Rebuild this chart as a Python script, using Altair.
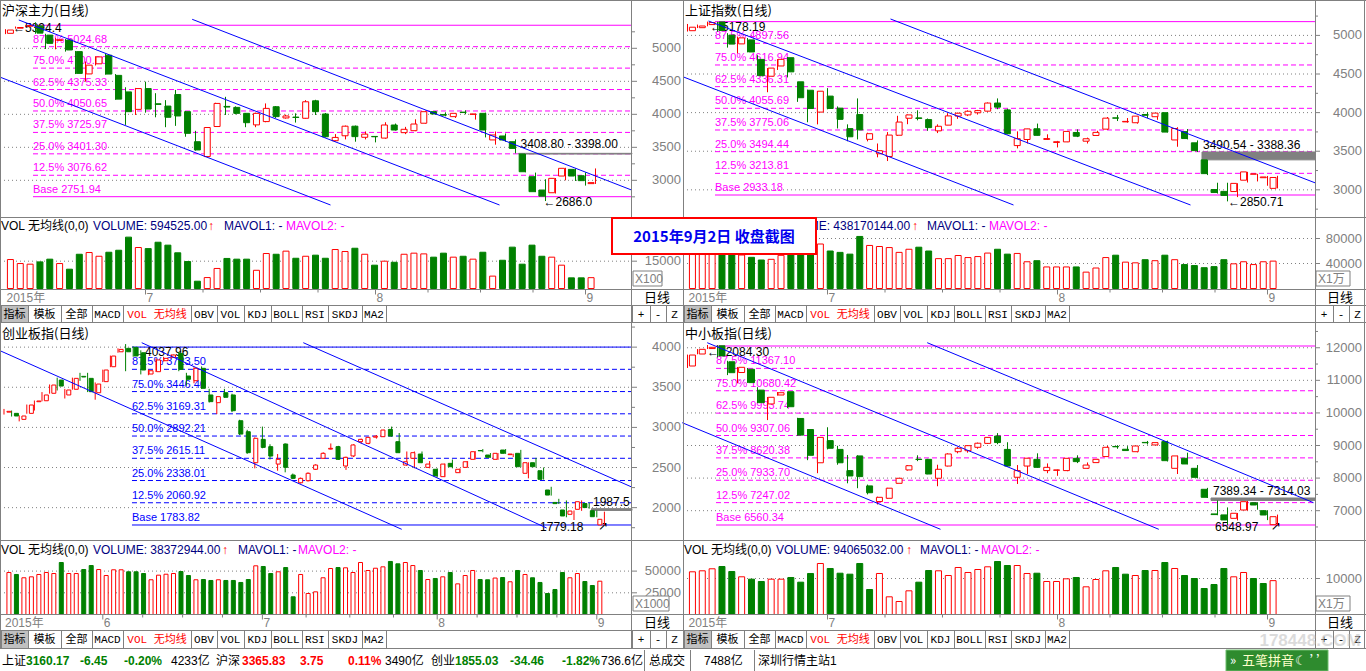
import altair as alt
import pandas as pd

W, H = 1366, 671
FONT = "Liberation Sans, DejaVu Sans, Noto Sans CJK SC"
CJK = "Noto Sans CJK SC, Liberation Sans"
MONO = "Liberation Mono, DejaVu Sans Mono, Noto Sans CJK SC"
RED, GREEN, MAG, BLUE, GRAY, NAVY = "#FF0000", "#008000", "#FF00FF", "#0000FF", "#808080", "#000080"

# ================= DATA =================
# 沪深主力 (2015-06-10 .. 2015-09-02)
hs_open = [5227,5305,5335,5340,5200,5120,5125,4950,4612,4765, 4895,4590,4340,4075,4390,4160,4125,4300,4040,3585,
           3360,3815,4120,4105,4015,3840,3890,4115,3945,3958, 3940,4205,4005,3600,3675,3820,3652,3665,3640,3838,
           3722,3752,3865,4040,3995,3965,4033,4000,4015,3612, 3672,3585,3398,3055,2853,2812,3065,3166,3070,2950]
hs_high = [5290,5330,5349,5394.4,5220,5160,5140,4960,4800,4880, 4920,4610,4410,4400,4495,4320,4215,4370,4050,3750,
           3805,4175,4265,4120,4020,4025,4165,4125,3995,4015, 4215,4220,4020,3700,3830,3830,3740,3670,3880,3860,
           3810,3925,4050,4050,4030,4020,4060,4008,4025,3740, 3710,3620,3398,3117,3016,3035,3190,3180,3120,3180]
hs_low = [5215,5298,5325,5220,4990,4985,4950,4610,4495,4740, 4600,4220,3840,3990,4025,3955,3805,3825,3660,3450,
          3355,3810,3990,4000,3805,3805,3880,3945,3935,3875, 3935,3990,3650,3590,3620,3585,3620,3575,3630,3755,
          3700,3745,3860,3995,3970,3945,4000,3920,3650,3540, 3585,3408.8,3120,2820,2686,2800,3000,2990,2920,2945]
hs_close = [5277,5315,5345,5230,5075,5130,4975,4620,4745,4870, 4610,4230,4040,4390,4080,4150,3955,3975,3712,3460,
            3800,4165,4110,4015,3873,4015,4090,3965,3975,3952, 4190,4040,3660,3650,3820,3662,3700,3660,3838,3762,
            3773,3853,4040,4005,3988,4015,4027,4005,3762,3687, 3611,3484,3130,2828,2760,3030,3182,3065,2995,2965]
hs_vol = [15900,13700,13350,14600,16100,13700,10600,18800,19750,17700, 19900,21000,28200,22500,21900,25400,23800,19600,14800,4000,
          6000,11000,16500,16100,16100,10000,19200,18800,20500,16600, 17700,18300,16600,21400,20300,22100,18800,12800,15000,14400,
          18800,19400,19000,17200,19400,17200,17700,16100,19900,6800, 15500,22700,13350,23800,17700,17200,12800,5850,5850,5945]
hs_fib = [5349.38, 5024.68, 4700.00, 4375.33, 4050.65, 3725.97, 3401.30, 3076.62, 2751.94]
hs_grid = [3000, 3500, 4000, 4500, 5000]
hs_minor = [2750, 3250, 3750, 4250, 4750, 5250]
hs_vgrid = [15000]
hs_chan = [(18.67, 5439.5, 62.6, 2853.4), (1.33, 5429.0, 49.4, 2626.2), (-0.5, 4560.8, 32.5, 2626.2)]
hs_note_i = [0.75, 51.5, 53.8]
hs_note_v = [5308, 3550, 2672]
hs_note_t = ["←5394.4", "3408.80 - 3398.00", "←2686.0"]
hs_gap = (51.3, 62.65, 3398.0, 3408.8)

# 上证指数
sh_open = [5061,5100,5140,5174,5004,4890,4942,4689,4471,4604, 4711,4399,4289.77,4006.75,4214,4058,3793,3975,3654,3467,
           3432,3707,3927,3932,3910,3764,3838,3955,3970,3998, 4019,4124,4035,3573,3652,3791,3653,3614,3621,3743,
           3630,3704,3786,3932,3880,3869,3976,3947,3999,3646, 3754,3609,3388.36,3004,2980,2978,3125,3203,3157,3019]
sh_high = [5148,5140,5178.19,5176,5029,4985,4966,4744,4577,4691, 4720,4400,4297.48,4279,4317,4080,3848,4184,3740,3600,
           3748,3959,3975,4030,3924,3848,3993,4000,4030,4035, 4132,4184,4050,3757,3790,3858,3719,3634,3757,3783,
           3676,3765,3943,3970,3930,3955,4006,3994,4006,3811, 3788,3640,3388.36,3092,3092,3085,3233,3207,3180,3182]
sh_low = [5050,5095,5118,5048,4842,4767,4780,4476,4264,4552, 4456,4139,3875.05,3847.88,4043,3795,3629,3653,3628,3421,
          3373,3698,3850,3900,3765,3735,3838,3919,3955,3975, 4012,4044,3720,3537,3600,3705,3648,3549,3618,3683,
          3600,3701,3775,3891,3870,3857,3929,3907,3743,3558, 3653,3490.54,3191,2952,2850.71,2906,3095,3109,3053,3019]
sh_close = [5106.04,5121.59,5166.35,5062.99,4887.43,4967.90,4785.36,4478.36,4576.49,4690.15,
            4527.78,4192.87,4053.03,4277.22,4053.70,3912.77,3686.92,3775.91,3727.12,3507.19,
            3709.33,3877.80,3970.39,3924.49,3805.70,3823.18,3957.35,3992.11,4017.67,4026.04,
            4123.92,4070.91,3725.56,3663.00,3789.17,3705.77,3663.73,3622.91,3756.54,3694.57,
            3661.54,3744.20,3928.42,3927.91,3886.32,3954.56,3965.33,3993.67,3748.16,3794.11,
            3664.29,3507.74,3209.91,2964.97,2927.29,3083.59,3232.35,3205.99,3166.62,3160.17]
sh_vol = [62000,60000,64000,70000,62000,53600,49900,45600,46700,53100, 58000,60000,72000,71200,60000,57800,55000,83300,68900,67200,
          65500,57800,62800,66100,60000,47800,47800,52800,49500,51100, 56700,62800,55000,56100,42800,44500,34500,34500,34500,34500,
          26200,32800,49500,53300,42200,41100,46100,44500,53300,46100, 38300,36700,33300,35000,46100,39500,42800,38300,42800,43817]
sh_fib = [5178.19, 4897.56, 4616.94, 4336.31, 4055.69, 3775.06, 3494.44, 3213.81, 2933.18]
sh_grid = [3000, 3500, 4000, 4500, 5000]
sh_minor = [2750, 3250, 3750, 4250, 4750, 5250]
sh_vgrid = [40000, 80000]
sh_chan = [(20.3, 5212.4, 62.8, 3088.6), (2.1, 5186.5, 50.3, 2803.7), (-0.4, 4461.3, 32.6, 2803.7)]
sh_note_i = [2.25, 51.55, 54.05]
sh_note_v = [5109, 3581, 2843]
sh_note_t = ["←5178.19", "3490.54 - 3388.36", "←2850.71"]
sh_gap = (51.45, 62.75, 3388.36, 3490.54)

# 创业板指 (2015-05-13 .. 2015-09-02)
cy_open = [3190,3175,3100,3175,3320,3332,3425,3590,3404,3475, 3636,3611,3432,3570,3756,3942,3985,3997,3930,3665,
           3694,3831,3873,3922,3640,3582,3736,3404,3308,3432, 3404,3083,2946,2560,2851,2760,2543,2793,2407,2310,
           2336,2478,2615,2730,2760,2519,2644,2822,2801,2878, 2884,2975,2822,2531,2615,2668,2502,2478,2386,2552,
           2436,2502,2602,2712,2656,2602,2718,2660,2677,2428, 2560,2460,2220,2065,1971,1917,1979,2051,1962,1785]
cy_high = [3230,3210,3150,3285,3335,3440,3535,3620,3480,3620, 3680,3680,3560,3720,3895,3985,4037.96,4010,3960,3720,
           3860,3880,3910,3940,3680,3750,3760,3480,3390,3480, 3420,3095,2970,2875,3010,2790,2668,2800,2425,2375,
           2440,2540,2690,2800,2770,2635,2790,2860,2880,2905, 2970,3010,2930,2700,2700,2700,2580,2490,2550,2600,
           2490,2580,2705,2730,2680,2680,2730,2672,2720,2565, 2620,2500,2260,2110,2090,1965,2090,2060,1965,1950]
cy_low = [3160,3135,3075,3170,3210,3325,3420,3460,3360,3470, 3580,3440,3345,3565,3750,3930,3700,3880,3660,3650,
          3690,3820,3860,3700,3520,3550,3480,3310,3166,3370, 3190,2905,2670,2490,2740,2600,2460,2440,2355,2300,
          2325,2470,2610,2725,2595,2470,2630,2800,2790,2860, 2880,2885,2680,2520,2490,2555,2490,2375,2380,2490,
          2430,2500,2600,2690,2620,2595,2670,2630,2505,2365, 2500,2350,2150,2045,1880,1846,1960,1987.5,1880,1779.18]
cy_close = [3200,3142,3142,3279,3329,3404,3528,3515,3466,3611, 3628,3445,3540,3715,3889,3972,3942,3890,3715,3706,
            3840,3860,3902,3723,3599,3736,3487,3321,3383,3375, 3208,2917,2685,2864,2751,2643,2602,2502,2365,2365,
            2428,2531,2677,2739,2602,2627,2781,2851,2876,2890, 2967,2892,2685,2572,2685,2560,2543,2395,2543,2510,
            2478,2572,2697,2708,2627,2677,2677,2668,2510,2560, 2510,2353,2157,2050,1896,1958,2074,2001,1887,1855.03]
cy_vol = [48400,46100,42300,43400,46100,48400,47200,59900,47200,47200, 51800,56400,51800,44900,51500,51500,49200,49200,47200,40000,
          45300,46400,47200,49500,44900,40000,40300,39200,40000,39200, 39200,36900,40300,56100,55300,47200,49200,54100,20400,46100,
          24200,26100,42300,53000,54100,53800,48400,59900,50700,53300, 54900,61100,58400,59900,56400,50700,40300,41500,43400,48400,
          35300,44900,50700,40300,40000,42000,42600,37700,50700,46100, 42300,36900,24200,28800,48400,42300,47200,38000,33400,38373]
cy_fib = [4000.60, 3723.50, 3446.40, 3169.31, 2892.21, 2615.11, 2338.01, 2060.92, 1783.82]
cy_grid = [2000, 2500, 3000, 3500, 4000]
cy_minor = [1750, 2250, 2750, 3250, 3750, 4250]
cy_vgrid = [25000, 50000]
cy_chan = [(39.38, 4055.3, 82.5, 2261.0), (18.12, 4055.3, 71.4, 1746.4), (-0.53, 3955.6, 52.33, 1730.2)]
cy_note_i = [16.97, 77.5, 70.53, 78.2]
cy_note_v = [3943, 2074, 1759, 1771]
cy_note_t = ["←4037.96", "1987.5", "1779.18", "↗"]
cy_gap = (77.3, 82.63, 1965.0, 1987.5)

# 中小板指
zx_open = [11440,11808,11975,12060,11570,11240,11340,10700,10275,10550, 10650,9830,9490,8470,9150,8880,8230,8680,7760,7280,
           7380,7840,8250,8580,8575,7995,8370,8810,8840,8945, 9065,9290,8880,8025,8370,8575,8230,8240,8230,8607,
           8300,8475,8660,8970,8885,8810,9095,9017,9120,8300, 8607,8300,7656,6900,6870,6765,7020,7245,7000,6570]
zx_high = [11790,11960,12084.3,12080,11600,11410,11380,10790,10490,10640, 10660,9850,9500,9260,9560,8990,8710,8700,7800,7430,
           7700,8000,8400,8700,8590,8410,8760,8950,9000,9090, 9260,9380,9100,8400,8620,8760,8450,8260,8610,8700,
           8480,8590,8990,9010,8980,8990,9140,9090,9150,8690, 8780,8400,7700,7314.03,7100,6930,7300,7260,7010,6880]
zx_low = [11380,11800,11960,11700,11160,10910,10920,10300,9780,10530, 10150,9300,8550,8150,8880,8410,7840,7690,7500,7190,
          7370,7835,8230,8520,8120,7750,8360,8760,8780,8900, 9050,9040,8350,7820,8120,8320,8150,8070,8210,8460,
          8290,8470,8650,8900,8840,8790,9030,9000,8510,8125, 8420,7990,7389.34,6860,6548.97,6700,7000,7030,6710,6555]
zx_close = [11777,11952,12014,11750,11235,11400,10930,10315,10480,10620, 10190,9320,8700,9250,8915,8470,8065,8045,7550,7410,
            7690,7995,8380,8570,8125,8270,8740,8915,8995,9070, 9250,9090,8370,8230,8610,8330,8330,8250,8607,8505,
            8400,8576,8945,8960,8845,8985,9085,9088,8535,8680, 8433,8024,7411,6880,6715,6920,7276,7174,6867,6815]
zx_vol = [11860,12140,12700,13330,11940,10470,9810,9170,9810,9810, 10280,8980,11390,14170,12780,11470,11200,14170,6940,11390,
          4910,3610,6580,8980,12220,12140,10830,13060,11670,12500, 13250,14720,13610,13610,11390,11470,9170,9170,9910,10280,
          7690,9720,12140,13060,11200,10830,12220,12220,14440,12780, 10830,10000,7220,8330,12780,10470,11670,10000,8610,9406]
zx_fib = [12053.78, 11367.10, 10680.42, 9993.74, 9307.06, 8620.38, 7933.70, 7247.02, 6560.34]
zx_grid = [7000, 8000, 9000, 10000, 11000, 12000]
zx_minor = [6500, 7500, 8500, 9500, 10500, 11500, 12500]
zx_vgrid = [10000]
zx_chan = [(23.97, 12155.1, 62.6, 7244.7), (1.97, 12155.1, 47.13, 6428.4), (-0.53, 9700.0, 25.3, 6428.4)]
zx_note_i = [1.95, 52.55, 52.75, 58.35]
zx_note_v = [11879, 7613, 6499, 6530]
zx_note_t = ["←12084.30", "7389.34 - 7314.03", "6548.97", "↗"]
zx_gap = (52.35, 62.75, 7314.03, 7389.34)

FIB_PCT = ["", "87.5%", "75.0%", "62.5%", "50.0%", "37.5%", "25.0%", "12.5%", "Base"]

# date rows
top_tick_i = [14, 37, 58]
top_qtick_i = [19.75, 25.5, 31.25, 42.25, 47.5, 52.75]
top_lab_i = [0, 14, 37, 58]
top_lab_t = ["2015年", "7", "8", "9"]
bl_tick_i = [13, 34, 57, 78]
bl_qtick_i = [18.25, 23.5, 28.75, 39.75, 45.5, 51.25, 62.25, 67.5, 72.75]
bl_lab_i = [0, 13, 34, 57, 78]
bl_lab_t = ["2015年", "6", "7", "8", "9"]

# ================= LAYOUT =================
PANELS = [
    dict(title="沪深主力(日线)", O=hs_open, H=hs_high, L=hs_low, C=hs_close, V=hs_vol, fib=hs_fib, fibx=2.75, fibcol=MAG,
         grid=hs_grid, minor=hs_minor, vgrid=hs_vgrid, chan=hs_chan, ni=hs_note_i, nv=hs_note_v, nt=hs_note_t, gap=hs_gap,
         xd=(-0.55, 62.65), px=(0, 632), yd=(2444.4, 5731.9), py=(217, 0), vd=(0, 39250), pv=(288.5, 217),
         body=6, adx=49, row=289.5, tick_i=top_tick_i, qtick_i=top_qtick_i, lab_i=top_lab_i, lab_t=top_lab_t),
    dict(title="上证指数(日线)", O=sh_open, H=sh_high, L=sh_low, C=sh_close, V=sh_vol, fib=sh_fib, fibx=2.75, fibcol=MAG,
         grid=sh_grid, minor=sh_minor, vgrid=sh_vgrid, chan=sh_chan, ni=sh_note_i, nv=sh_note_v, nt=sh_note_t, gap=sh_gap,
         xd=(-0.45, 62.75), px=(683, 1315), yd=(2648.3, 5458.4), py=(217, 0), vd=(0, 114400), pv=(288.5, 217),
         body=6, adx=47, row=289.5, tick_i=top_tick_i, qtick_i=top_qtick_i, lab_i=top_lab_i, lab_t=top_lab_t),
    dict(title="创业板指(日线)", O=cy_open, H=cy_high, L=cy_low, C=cy_close, V=cy_vol, fib=cy_fib, fibx=16.84, fibcol=BLUE,
         grid=cy_grid, minor=cy_minor, vgrid=cy_vgrid, chan=cy_chan, ni=cy_note_i, nv=cy_note_v, nt=cy_note_t, gap=cy_gap,
         xd=(-0.5263, 82.6316), px=(0, 632), yd=(1596.9, 4313.2), py=(540, 322), vd=(0, 84670), pv=(614.5, 541),
         body=4, adx=49, row=614.5, tick_i=bl_tick_i, qtick_i=bl_qtick_i, lab_i=bl_lab_i, lab_t=bl_lab_t),
    dict(title="中小板指(日线)", O=zx_open, H=zx_high, L=zx_low, C=zx_close, V=zx_vol, fib=zx_fib, fibx=2.85, fibcol=MAG,
         grid=zx_grid, minor=zx_minor, vgrid=zx_vgrid, chan=zx_chan, ni=zx_note_i, nv=zx_note_v, nt=zx_note_t, gap=zx_gap,
         xd=(-0.45, 62.75), px=(683, 1315), yd=(6100.0, 12790.4), py=(540, 322), vd=(0, 20418), pv=(614.5, 541),
         body=6, adx=47, row=614.5, tick_i=top_tick_i, qtick_i=top_qtick_i, lab_i=top_lab_i, lab_t=top_lab_t),
]


def S(dom, rng):
    return alt.Scale(domain=list(dom), range=list(rng), nice=False, zero=False)


SX, SY = S((0, W), (0, W)), S((0, H), (0, H))


def C(rows):
    return alt.Chart(pd.DataFrame(rows))


def panel_layers(p):
    xs, ys, vs = S(p["xd"], p["px"]), S(p["yd"], p["py"]), S(p["vd"], p["pv"])
    x0, x1 = p["xd"]
    n = len(p["O"])
    up = [c >= o for o, c in zip(p["O"], p["C"])]
    df = pd.DataFrame({"i": list(range(n)), "o": p["O"], "h": p["H"], "l": p["L"], "c": p["C"], "v": p["V"],
                       "z": [0] * n, "col": [RED if u else GREEN for u in up],
                       "fill": ["#FFFFFF" if u else GREEN for u in up]})
    out = []
    # ---- price panel ----
    out.append(C({"y": p["grid"], "a": [x0] * len(p["grid"]), "b": [x1] * len(p["grid"])})
               .mark_rule(color=GRAY, strokeDash=[1, 3], strokeWidth=1)
               .encode(x=alt.X("a:Q", scale=xs, axis=None), x2="b:Q", y=alt.Y("y:Q", scale=ys, axis=None)))
    fib = pd.DataFrame({"y": p["fib"], "a": [p["fibx"]] * 9, "b": [x1] * 9,
                        "t": [f"{pc} {v:.2f}" for pc, v in zip(FIB_PCT, p["fib"])]})
    solid = fib.iloc[[0, 8]]
    dashed = fib.iloc[1:8]
    out.append(alt.Chart(solid).mark_rule(color=p["fibcol"], strokeWidth=1)
               .encode(x=alt.X("a:Q", scale=xs, axis=None), x2="b:Q", y=alt.Y("y:Q", scale=ys, axis=None)))
    out.append(alt.Chart(dashed).mark_rule(color=p["fibcol"], strokeWidth=1, strokeDash=[5, 3])
               .encode(x=alt.X("a:Q", scale=xs, axis=None), x2="b:Q", y=alt.Y("y:Q", scale=ys, axis=None)))
    out.append(alt.Chart(fib.iloc[1:]).mark_text(align="left", baseline="middle", dy=-7, fontSize=11, font=FONT,
                                                 color=p["fibcol"])
               .encode(x=alt.X("a:Q", scale=xs, axis=None), y=alt.Y("y:Q", scale=ys, axis=None), text="t:N"))
    # gap band
    g0, g1, gv0, gv1 = p["gap"]
    out.append(C({"a": [g0], "b": [g1], "y": [gv0], "y2": [gv1]})
               .mark_rect(fill=GRAY, stroke=GRAY, strokeWidth=1)
               .encode(x=alt.X("a:Q", scale=xs, axis=None), x2="b:Q", y=alt.Y("y:Q", scale=ys, axis=None), y2="y2:Q"))
    # annotations
    out.append(C({"i": p["ni"], "v": p["nv"], "t": p["nt"]})
               .mark_text(align="left", baseline="middle", fontSize=12, font=FONT, color="black")
               .encode(x=alt.X("i:Q", scale=xs, axis=None), y=alt.Y("v:Q", scale=ys, axis=None), text="t:N"))
    # candles
    out.append(alt.Chart(df).mark_rule(strokeWidth=1)
               .encode(x=alt.X("i:Q", scale=xs, axis=None), y=alt.Y("l:Q", scale=ys, axis=None), y2="h:Q",
                       color=alt.Color("col:N", scale=None)))
    out.append(alt.Chart(df).mark_bar(size=p["body"], strokeWidth=1)
               .encode(x=alt.X("i:Q", scale=xs, axis=None), y=alt.Y("o:Q", scale=ys, axis=None), y2="c:Q",
                       fill=alt.Fill("fill:N", scale=None), stroke=alt.Stroke("col:N", scale=None)))
    # channel lines
    ch = pd.DataFrame(p["chan"], columns=["a", "va", "b", "vb"])
    out.append(alt.Chart(ch).mark_rule(color=BLUE, strokeWidth=1)
               .encode(x=alt.X("a:Q", scale=xs, axis=None), y=alt.Y("va:Q", scale=ys, axis=None),
                       x2="b:Q", y2="vb:Q"))
    # right axis
    ax = pd.DataFrame({"y": p["grid"], "a": [x1] * len(p["grid"]), "t": [str(v) for v in p["grid"]]})
    mn = pd.DataFrame({"y": p["minor"], "a": [x1] * len(p["minor"])})
    out.append(alt.Chart(ax).mark_rule(color=GRAY, x2Offset=5)
               .encode(x=alt.X("a:Q", scale=xs, axis=None), x2="a:Q", y=alt.Y("y:Q", scale=ys, axis=None)))
    out.append(alt.Chart(mn).mark_rule(color=GRAY, x2Offset=3)
               .encode(x=alt.X("a:Q", scale=xs, axis=None), x2="a:Q", y=alt.Y("y:Q", scale=ys, axis=None)))
    out.append(alt.Chart(ax).mark_text(align="right", baseline="middle", dx=p["adx"], fontSize=13, font=FONT, color=GRAY)
               .encode(x=alt.X("a:Q", scale=xs, axis=None), y=alt.Y("y:Q", scale=ys, axis=None), text="t:N"))
    # ---- volume panel ----
    vg = pd.DataFrame({"y": p["vgrid"], "a": [x0] * len(p["vgrid"]), "b": [x1] * len(p["vgrid"]),
                       "e": [x1] * len(p["vgrid"]), "t": [str(v) for v in p["vgrid"]]})
    out.append(alt.Chart(vg).mark_rule(color=GRAY, strokeDash=[1, 3], strokeWidth=1)
               .encode(x=alt.X("a:Q", scale=xs, axis=None), x2="b:Q", y=alt.Y("y:Q", scale=vs, axis=None)))
    out.append(alt.Chart(df).mark_bar(size=p["body"], strokeWidth=1)
               .encode(x=alt.X("i:Q", scale=xs, axis=None), y=alt.Y("z:Q", scale=vs, axis=None), y2="v:Q",
                       fill=alt.Fill("fill:N", scale=None), stroke=alt.Stroke("col:N", scale=None)))
    out.append(alt.Chart(vg).mark_rule(color=GRAY, x2Offset=5)
               .encode(x=alt.X("e:Q", scale=xs, axis=None), x2="e:Q", y=alt.Y("y:Q", scale=vs, axis=None)))
    out.append(alt.Chart(vg).mark_text(align="right", baseline="middle", dx=p["adx"], fontSize=13, font=FONT, color=GRAY)
               .encode(x=alt.X("e:Q", scale=xs, axis=None), y=alt.Y("y:Q", scale=vs, axis=None), text="t:N"))
    # ---- date row ----
    r = p["row"]
    tk = pd.DataFrame({"i": p["tick_i"], "y": [r] * len(p["tick_i"]), "y2": [r + 5] * len(p["tick_i"])})
    qt = pd.DataFrame({"i": p["qtick_i"], "y": [r] * len(p["qtick_i"]), "y2": [r + 3] * len(p["qtick_i"])})
    for d in (tk, qt):
        out.append(alt.Chart(d).mark_rule(color=GRAY)
                   .encode(x=alt.X("i:Q", scale=xs, axis=None), y=alt.Y("y:Q", scale=SY, axis=None), y2="y2:Q"))
    lb = pd.DataFrame({"i": p["lab_i"], "y": [r + 8] * len(p["lab_i"]), "t": p["lab_t"]})
    out.append(alt.Chart(lb).mark_text(align="left", baseline="middle", dx=1, fontSize=12, font=FONT, color=GRAY)
               .encode(x=alt.X("i:Q", scale=xs, axis=None), y=alt.Y("y:Q", scale=SY, axis=None), text="t:N"))
    return out


def px_rules(rows, **mk):
    return C(rows).mark_rule(**mk).encode(x=alt.X("x:Q", scale=SX, axis=None), x2="x2:Q",
                                          y=alt.Y("y:Q", scale=SY, axis=None), y2="y2:Q")


def px_rects(rows, **mk):
    return C(rows).mark_rect(**mk).encode(x=alt.X("x:Q", scale=SX, axis=None), x2="x2:Q",
                                          y=alt.Y("y:Q", scale=SY, axis=None), y2="y2:Q")


def px_text(rows, **mk):
    return C(rows).mark_text(**mk).encode(x=alt.X("x:Q", scale=SX, axis=None), y=alt.Y("y:Q", scale=SY, axis=None),
                                          text="t:N", color=alt.Color("c:N", scale=None))


layers = []
for p in PANELS:
    layers += panel_layers(p)

# ---------- window chrome ----------
hlines_y = [0.5, 217.5, 289.5, 305.5, 322.5, 540.5, 614.5, 630.5, 648.5]
vlines_x = [0.5, 631.5, 683.5, 1315.5, 1364.5]
layers.append(px_rules({"x": [0] * len(hlines_y), "x2": [W] * len(hlines_y), "y": hlines_y, "y2": hlines_y},
                       color=GRAY, strokeWidth=1))
layers.append(px_rules({"x": vlines_x, "x2": vlines_x, "y": [0] * len(vlines_x), "y2": [648.5] * len(vlines_x)},
                       color=GRAY, strokeWidth=1))

# panel titles
layers.append(px_text({"t": [p["title"] for p in PANELS], "x": [2, 685, 2, 685], "y": [11, 11, 334, 334],
                       "c": ["black"] * 4}, align="left", baseline="middle", fontSize=13, font=CJK))

# volume titles
vt_t = ["VOL 无均线(0,0)", "VOLUME: 594525.00", "↑", "MAVOL1: -", "MAVOL2: -",
        "VOL 无均线(0,0)", "VOLUME: 438170144.00", "↑", "MAVOL1: -", "MAVOL2: -",
        "VOL 无均线(0,0)", "VOLUME: 38372944.00", "↑", "MAVOL1: -", "MAVOL2: -",
        "VOL 无均线(0,0)", "VOLUME: 94065032.00", "↑", "MAVOL1: -", "MAVOL2: -"]
vt_x = [1, 93, 208, 224, 286, 684, 776, 912, 927, 989, 1, 93, 222, 238, 298, 684, 776, 906, 920, 981]
vt_y = [225.5] * 10 + [549.5] * 10
vt_c = ["black", NAVY, RED, NAVY, MAG] * 4
layers.append(px_text({"t": vt_t, "x": vt_x, "y": vt_y, "c": vt_c}, align="left", baseline="middle",
                      fontSize=12, font=FONT))

# unit boxes on volume axes
ub_t = ["X100", "X1万", "X1000", "X1万"]
ub_x = [633, 1316, 633, 1316]
ub_x2 = [662, 1350, 669, 1350]
ub_y = [271, 271, 596, 596]
layers.append(px_rects({"x": ub_x, "x2": ub_x2, "y": ub_y, "y2": [v + 15 for v in ub_y]},
                       fill="white", stroke=GRAY, strokeWidth=1))
layers.append(px_text({"t": ub_t, "x": [v + 2 for v in ub_x], "y": [v + 8 for v in ub_y], "c": [GRAY] * 4},
                      align="left", baseline="middle", fontSize=12, font=FONT))

# "日线" cells
layers.append(px_text({"t": ["日线"] * 4, "x": [657, 1340, 657, 1340], "y": [298, 298, 623, 623], "c": ["black"] * 4},
                      align="center", baseline="middle", fontSize=13, font=CJK))

# toolbars
tb_t = ["指标", "模板", "全部", "MACD", "VOL 无均线", "OBV", "VOL", "KDJ", "BOLL", "RSI", "SKDJ", "MA2"]
tb_e = [1, 28, 61, 92, 123, 191, 217, 244, 271, 302, 328, 362, 386]
tr_t = ["+", "-", "Z"]
tr_e = [632, 650, 666, 683]
rows_y = [(306, 322), (631, 648)]
sep_x, sep_y, sep_y2, lab_x, lab_y, lab_t, lab_c = [], [], [], [], [], [], []
gray_x, gray_x2, gray_y, gray_y2 = [], [], [], []
for off in (0, 683):
    for (y0, y1) in rows_y:
        gray_x.append(off + tb_e[0]); gray_x2.append(off + tb_e[1]); gray_y.append(y0); gray_y2.append(y1)
        for e in tb_e + tr_e:
            sep_x.append(off + e + 0.5); sep_y.append(y0); sep_y2.append(y1)
        for k, t in enumerate(tb_t):
            lab_x.append(off + (tb_e[k] + tb_e[k + 1]) / 2); lab_y.append((y0 + y1) / 2 + 0.5); lab_t.append(t)
            lab_c.append(RED if t == "VOL 无均线" else "black")
        for k, t in enumerate(tr_t):
            lab_x.append(off + (tr_e[k] + tr_e[k + 1]) / 2); lab_y.append((y0 + y1) / 2 + 0.5); lab_t.append(t)
            lab_c.append("black")
layers.append(px_rects({"x": gray_x, "x2": gray_x2, "y": gray_y, "y2": gray_y2}, fill="#C0C0C0"))
layers.append(px_rules({"x": sep_x, "x2": sep_x, "y": sep_y, "y2": sep_y2}, color=GRAY, strokeWidth=1))
layers.append(px_text({"t": lab_t, "x": lab_x, "y": lab_y, "c": lab_c}, align="center", baseline="middle",
                      fontSize=11, font=MONO))

# status bar
st_t = ["上证", "3160.17", "-6.45", "-0.20%", "4233亿", "沪深", "3365.83", "3.75", "0.11%", "3490亿",
        "创业", "1855.03", "-34.46", "-1.82%", "736.6亿", "总成交", "7488亿", "深圳行情主站1"]
st_x = [2, 26, 80, 124, 171, 216, 242, 300, 348, 385, 431, 455, 510, 562, 601, 649, 704, 758]
st_c = ["black", GREEN, GREEN, GREEN, "black", "black", RED, RED, RED, "black",
        "black", GREEN, GREEN, GREEN, "black", "black", "black", "black"]
st_b = [c in (GREEN, RED) for c in st_c]
stdf = {"t": st_t, "x": st_x, "y": [660.5] * len(st_t), "c": st_c}
bold_rows = {k: [v for v, b in zip(stdf[k], st_b) if b] for k in stdf}
norm_rows = {k: [v for v, b in zip(stdf[k], st_b) if not b] for k in stdf}
layers.append(px_text(norm_rows, align="left", baseline="middle", fontSize=12, font=FONT))
layers.append(px_text(bold_rows, align="left", baseline="middle", fontSize=12, font=FONT, fontWeight="bold"))
st_sep = [644.5, 690.5, 754.5]
layers.append(px_rules({"x": st_sep, "x2": st_sep, "y": [650] * 3, "y2": [671] * 3}, color=GRAY))
layers.append(px_rects({"x": [1226], "x2": [1328], "y": [650], "y2": [671]}, fill="#2E8B2E", stroke="#6FBF6F"))
layers.append(px_text({"t": ["»", "五笔拼音", "☾ ’’"], "x": [1233, 1268, 1312], "y": [660.5] * 3,
                       "c": ["white", "#FFFFCC", "white"]}, align="center", baseline="middle", fontSize=13, font=CJK))

# title box
layers.append(px_rects({"x": [612], "x2": [816], "y": [218], "y2": [254]}, fill="white", stroke=RED, strokeWidth=2))
layers.append(px_text({"t": ["2015年9月2日  收盘截图"], "x": [714], "y": [236.5], "c": ["#0000EE"]},
                      align="center", baseline="middle", fontSize=15, font=CJK, fontWeight="bold"))

# watermark (semi-transparent, over the bottom-right toolbar as in the screenshot)
layers.append(px_text({"t": ["178448.COM"], "x": [1310], "y": [641], "c": ["#BFBFBF"]},
                      align="center", baseline="middle", fontSize=17, font=FONT, fontWeight="bold", opacity=0.55))

chart = (alt.layer(*layers)
         .resolve_scale(x="independent", y="independent")
         .properties(width=W, height=H, padding=0, autosize=alt.AutoSizeParams(type="none"), background="white")
         .configure_view(stroke=None))

chart.save("out.html", embed_options={"renderer": "svg", "actions": False})
